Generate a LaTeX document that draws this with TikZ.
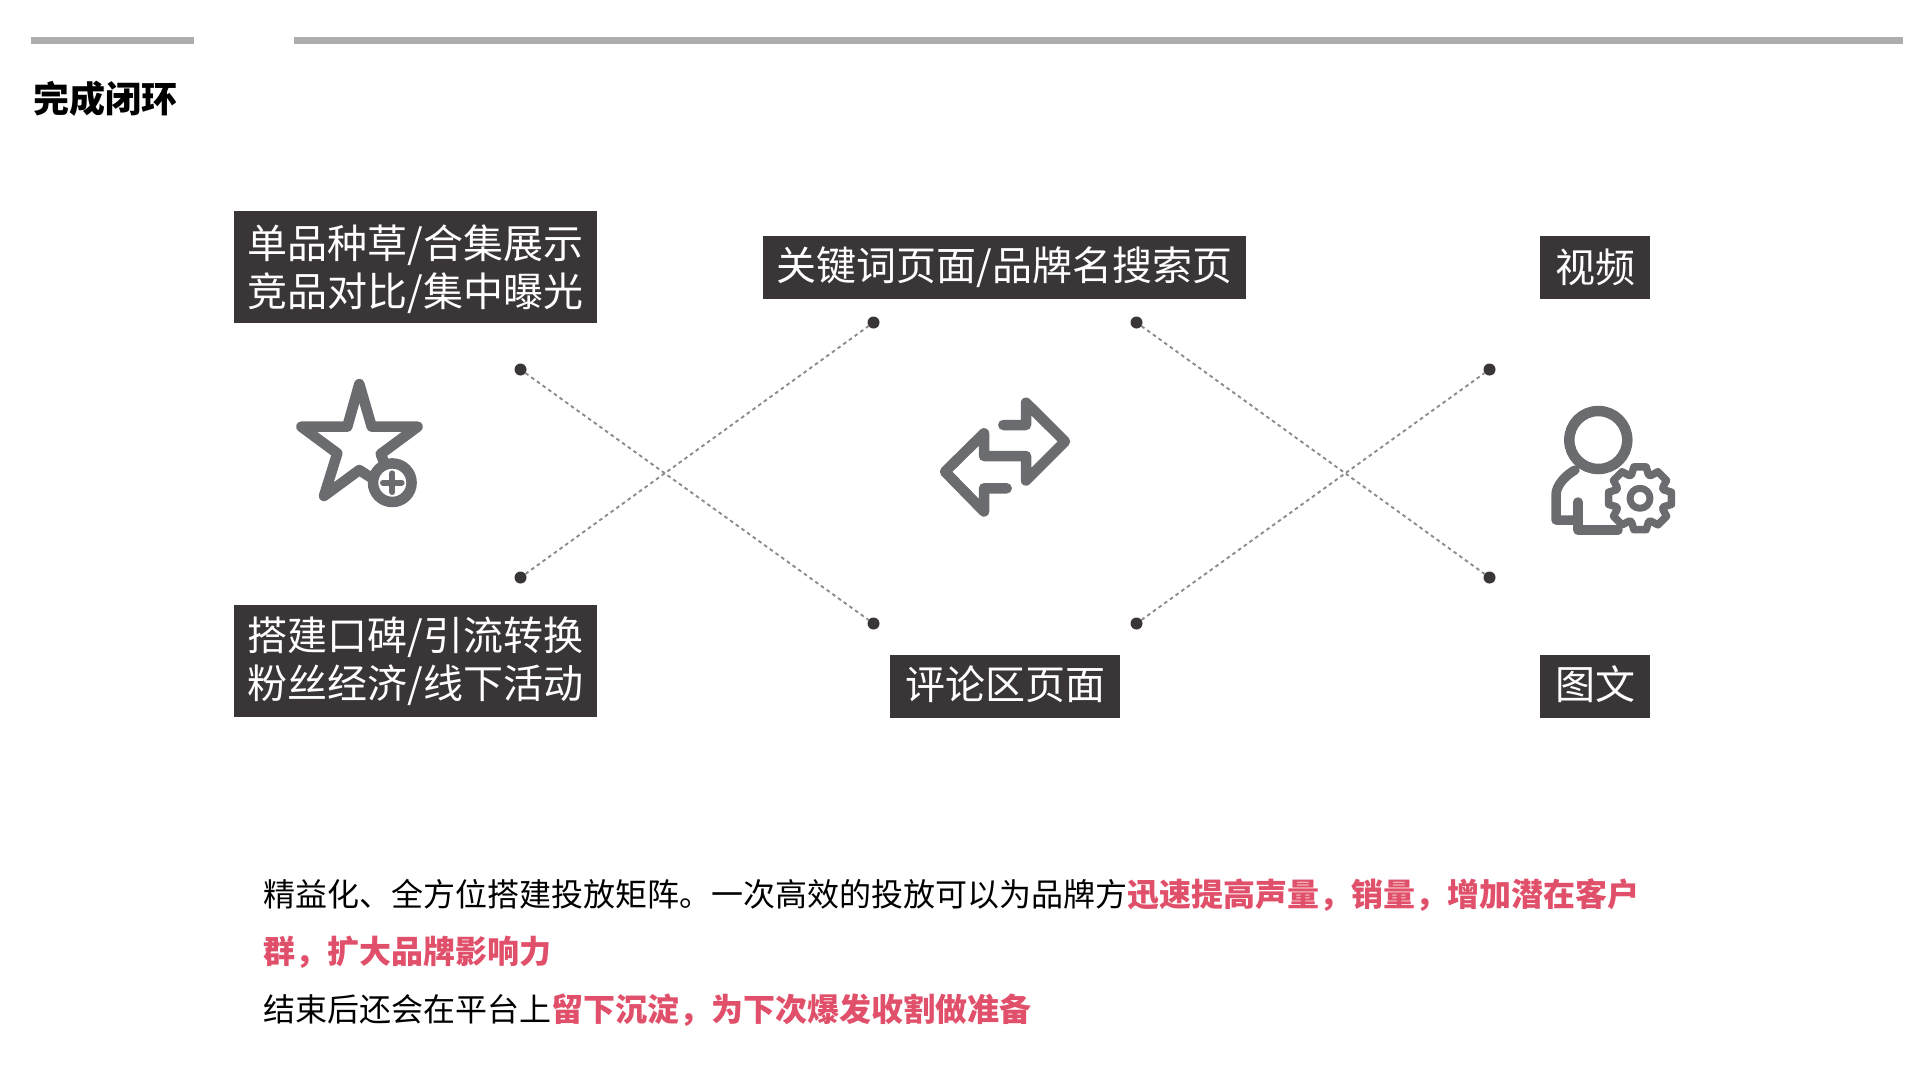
\documentclass[tikz,border=0pt]{standalone}
\usepackage{fontspec}
\setmainfont{Noto Sans CJK SC}
\definecolor{barcol}{HTML}{ADADAD}
\definecolor{boxcol}{HTML}{3A3536}
\definecolor{iconcol}{HTML}{6B6C70}
\definecolor{redcol}{HTML}{E0506A}
\newcommand\widecomma{\char"FF0C\relax}
\tikzset{
  labelbox/.style={fill=boxcol, text=white, inner sep=0pt, align=center,
    font=\fontsize{40}{48}\selectfont},
  enddot/.style={circle, fill=boxcol, inner sep=0pt, minimum size=12pt},
  dotline/.style={draw=gray!90, line width=1.9pt, dash pattern=on 3.6pt off 3.4pt},
  iconline/.style={draw=iconcol, line width=10.5pt, line join=round, line cap=round}
}
\begin{document}
\begin{tikzpicture}[y=-1pt, x=1pt]
\useasboundingbox (0,0) rectangle (1920,1080);
\fill[barcol] (30.5,37) rectangle (193.5,44);
\fill[barcol] (294,36.5) rectangle (1903,43.5);
\node[anchor=west, inner sep=0pt, font=\fontsize{36}{40}\selectfont\bfseries] (title) at (33,99) {完成闭环};
\node[labelbox, minimum width=363pt, minimum height=112.5pt] (single) at (415.5,267) {\rule{0pt}{38.4pt}单品种草/合集展示\\竞品对比/集中曝光};
\node[labelbox, minimum width=483.5pt, minimum height=63pt] (keyword) at (1004.7,267.5) {关键词页面/品牌名搜索页};
\node[labelbox, minimum width=110pt, minimum height=63pt] (video) at (1595,267.5) {视频};
\node[labelbox, minimum width=363pt, minimum height=112.5pt] (mouth) at (415.5,661) {搭建口碑/引流转换\\粉丝经济/线下活动};
\node[labelbox, minimum width=230pt, minimum height=63pt] (comment) at (1005,686) {\raisebox{7.5pt}{评论区页面}};
\node[labelbox, minimum width=110pt, minimum height=63pt] (graphic) at (1595,686) {\raisebox{7pt}{图文}};
\node[enddot] (a1) at (520.5,369.5) {};
\node[enddot] (a2) at (520.5,577.5) {};
\node[enddot] (b1) at (873.5,322.5) {};
\node[enddot] (b2) at (873.5,623.5) {};
\node[enddot] (c1) at (1136.5,322.5) {};
\node[enddot] (c2) at (1136.5,623.5) {};
\node[enddot] (d1) at (1489.5,369.5) {};
\node[enddot] (d2) at (1489.5,577.5) {};
\draw[dotline] (a1) -- (b2);
\draw[dotline] (a2) -- (b1);
\draw[dotline] (c1) -- (d2);
\draw[dotline] (c2) -- (d1);
\draw[iconline] (371.7,478) -- (359.3,470) -- (324,496) -- (337.3,453.3) -- (301.3,426.7) -- (347.3,426.7) -- (359.3,384) -- (371.7,426.7) -- (417.7,426.7) -- (380.7,454) -- (384,462);
\draw[iconline] (392.3,482.7) circle (19.3);
\draw[iconline, line width=6pt] (383,482.7) -- (401.6,482.7);
\draw[iconline, line width=6pt] (392.3,473.4) -- (392.3,492);
\draw[iconline] (1003.3,425) -- (1026,425) -- (1026,402.7) -- (1065,441.5) -- (1026,480.5) -- (1026,456) -- (984,456) -- (984,433.3) -- (945,471.7) -- (984,511.5) -- (984,488.3) -- (1006.7,488.3);
\draw[iconline] (1598.3,440) circle (29);
\draw[iconline, line width=9.5pt] (1575,470) .. controls (1566,475) and (1556,485) .. (1556,495) -- (1556,520) -- (1578,520);
\draw[iconline, line width=9.5pt] (1578,502) -- (1578,530) -- (1618,530);
\draw[iconline, line width=7.5pt, shift={(1640,498.3)}] (-20:25)
  \foreach \a in {0,45,...,315} { -- (\a-20:25) -- (\a-11:32) -- (\a+11:32) -- (\a+20:25) } -- cycle;
\draw[iconline, line width=7pt] (1640,498.3) circle (10);
\node[anchor=west, inner sep=0pt, align=left, font=\fontsize{32}{57.5}\selectfont] (summary) at (263,952.5) {精益化、全方位搭建投放矩阵。一次高效的投放可以为品牌方\textcolor{redcol}{\bfseries 迅速提高声量\widecomma 销量\widecomma 增加潜在客户}\\\textcolor{redcol}{\bfseries 群\widecomma 扩大品牌影响力}\\结束后还会在平台上\textcolor{redcol}{\bfseries 留下沉淀\widecomma 为下次爆发收割做准备}};
\end{tikzpicture}
\end{document}
